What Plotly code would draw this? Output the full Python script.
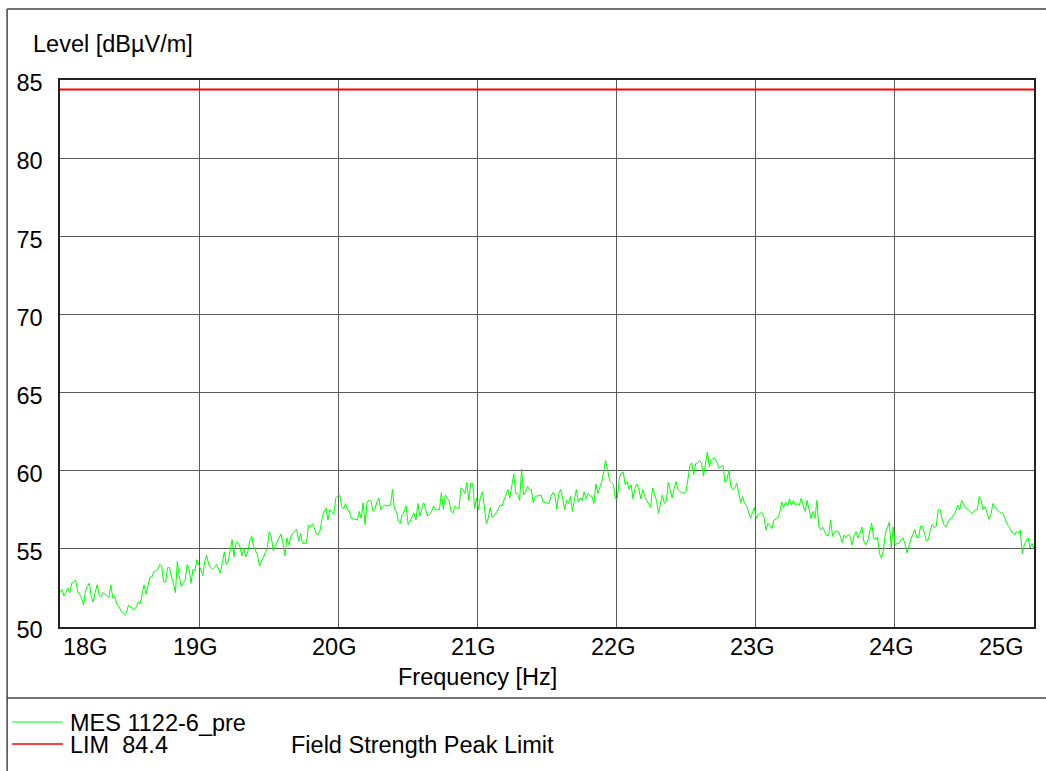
import numpy as np
import plotly.graph_objects as go

# ---- measured data -------------------------------------------------------
# Peak-detector sweep, 18 GHz .. 25 GHz, levels in dBµV/m (five consecutive spans)
LEVEL_A = [52.2, 52.4, 52.0, 52.2, 52.5, 52.2, 52.8, 52.9, 53.0, 52.3, 52.1, 51.9, 51.4, 52.3,
           52.6, 52.8, 51.95, 51.6, 52.2, 52.7, 52.05, 51.95, 52.2, 52.1, 52.0, 51.9, 52.7,
           51.85, 51.95, 51.5, 51.3, 51.1, 50.9, 50.8, 50.9, 51.4, 51.3, 51.2, 51.1, 51.3,
           51.6, 51.5, 52.2, 52.7, 52.1, 52.6, 53.2, 53.2, 53.55, 53.6, 53.7, 54.0, 53.9,
           52.9, 52.85, 53.8, 53.8, 53.2, 52.8, 52.2, 54.2, 53.2, 52.6, 52.8, 53.0, 54.0,
           53.7, 52.8, 53.7, 53.55, 54.3, 54.0, 53.7, 53.3, 54.2, 54.6, 54.0, 53.8, 53.7,
           53.8, 54.0, 53.7, 53.45, 54.1, 54.8, 54.0, 54.2, 54.9, 55.6, 54.5, 55.4, 55.4,
           55.15, 54.55, 55.05, 54.5, 54.8, 55.5, 55.8, 55.15, 54.9, 54.6]
LEVEL_B = [53.9, 54.2, 54.5, 54.7, 55.05, 56.1, 55.8, 54.9, 55.15, 55.5, 55.7, 55.95, 55.35,
           54.55, 55.7, 55.25, 55.8, 56.0, 56.1, 56.25, 55.5, 56.0, 55.35, 55.35, 55.35,
           56.5, 56.4, 56.6, 56.35, 55.95, 55.9, 56.2, 56.95, 57.4, 57.6, 56.85, 57.5, 57.4,
           57.2, 58.25, 58.4, 58.45, 57.7, 57.55, 57.9, 57.5, 57.4, 56.95, 56.9, 56.9, 56.85,
           57.4, 56.95, 57.95, 56.55, 58.0, 58.1, 58.05, 57.4, 57.5, 58.0, 58.25, 57.5, 57.7,
           57.8, 57.75, 57.8, 57.8, 58.8, 57.5, 57.4, 56.75, 56.65, 57.2, 57.4, 57.75, 56.55,
           56.75, 57.05, 57.3, 56.85, 57.9, 57.1, 57.6, 57.95, 57.5, 57.1, 57.2, 57.4, 57.75,
           57.5, 57.5, 57.5, 58.6, 57.55, 58.45, 58.25, 58.05, 57.4]
LEVEL_C = [57.3, 57.75, 57.6, 57.6, 58.9, 58.8, 58.55, 59.25, 58.1, 59.2, 59.2, 57.6, 58.25,
           57.5, 58.35, 58.65, 57.5, 56.6, 57.0, 57.65, 57.0, 57.1, 57.3, 57.6, 57.8, 57.75,
           58.1, 58.45, 58.8, 58.25, 59.1, 59.8, 58.55, 58.55, 58.1, 60.1, 58.45, 58.65, 59.0,
           58.8, 58.8, 57.95, 58.35, 58.4, 58.45, 58.45, 58.0, 57.95, 57.95, 57.9, 58.35,
           58.6, 58.45, 57.55, 58.55, 58.8, 58.25, 57.5, 58.1, 57.9, 58.35, 57.4, 58.1, 58.8,
           58.0, 58.25, 58.1, 58.65, 58.2, 58.55, 58.4, 58.35, 57.9, 59.15, 58.55, 59.0, 59.3,
           59.95, 60.65, 60.05, 59.35, 59.25, 59.1, 58.2, 58.25, 59.6, 59.85, 59.9, 59.1,
           59.3, 58.8, 59.1, 58.2, 58.9, 59.15, 58.8, 58.2, 58.8, 58.35, 58.1, 57.9]
LEVEL_D = [57.65, 58.9, 58.55, 58.1, 57.3, 58.0, 58.45, 57.9, 58.05, 59.25, 58.8, 58.25, 58.9,
           59.3, 58.8, 58.65, 58.55, 58.6, 58.65, 59.4, 60.3, 60.5, 59.75, 60.45, 60.5, 60.65,
           60.5, 59.65, 60.35, 61.2, 60.25, 60.7, 60.8, 60.75, 60.5, 60.15, 60.25, 60.35,
           59.25, 59.4, 60.05, 59.0, 58.8, 58.9, 59.2, 58.45, 57.95, 58.35, 57.9, 57.8, 57.4,
           56.95, 57.3, 57.65, 56.95, 57.2, 57.3, 57.3, 57.0, 56.2, 56.65, 56.45, 56.3, 56.85,
           56.95, 57.0, 57.3, 58.0, 57.65, 58.0, 57.75, 58.2, 57.8, 58.1, 57.8, 57.9, 57.8,
           58.25, 57.75, 57.4, 58.1, 57.55, 56.95, 57.4, 56.95, 58.1, 56.4, 56.2, 56.4, 56.1,
           55.85, 55.85, 56.85, 55.8, 56.1, 56.15, 56.1, 55.8, 55.4]
LEVEL_E = [55.9, 55.7, 55.9, 55.8, 55.25, 55.85, 56.1, 55.7, 56.0, 56.4, 55.5, 55.25, 55.5,
           56.0, 56.65, 55.7, 55.6, 55.75, 54.7, 54.4, 54.9, 56.0, 56.3, 56.7, 55.05, 56.4,
           55.25, 55.35, 55.35, 55.6, 55.7, 55.35, 54.75, 55.25, 55.6, 55.9, 56.25, 55.75,
           55.7, 56.45, 56.45, 56.0, 55.5, 55.6, 56.2, 56.55, 56.35, 56.45, 57.5, 57.5, 56.9,
           56.55, 56.4, 56.7, 56.9, 57.0, 57.2, 57.4, 57.8, 57.5, 58.1, 57.8, 57.6, 57.55,
           57.45, 57.3, 57.35, 57.5, 57.5, 58.35, 58.1, 57.5, 57.7, 57.3, 56.9, 57.2, 57.9,
           57.7, 57.5, 57.4, 57.3, 57.3, 56.95, 56.65, 56.45, 56.25, 56.0, 55.9, 56.1, 56.0,
           56.2, 54.7, 55.25, 55.5, 55.7, 55.05, 55.35, 55.0]

F_START_HZ = 18e9
F_STOP_HZ = 25e9
LIMIT_LEVEL = 84.4

X_TICK_HZ = [18e9, 19e9, 20e9, 21e9, 22e9, 23e9, 24e9, 25e9]
X_TICK_TEXT = ["18G", "19G", "20G", "21G", "22G", "23G", "24G", "25G"]
Y_TICKS = [50, 55, 60, 65, 70, 75, 80, 85]

TRACE_NAME = "MES 1122-6_pre"
LIMIT_NAME = "LIM  84.4"
LIMIT_DESC = "Field Strength Peak Limit"

# ---- figure geometry (pixels) -------------------------------------------
W, H = 1046, 771
ML, MR, MT, MB = 60, 10, 80, 144
PW, PH = W - ML - MR, H - MT - MB
FONT = "Liberation Sans, Arial, sans-serif"
FS = 23.5


def px_x(px):
    return (px - ML) / PW


def px_y(py):
    return (H - MB - py) / PH


levels = np.concatenate([LEVEL_A, LEVEL_B, LEVEL_C, LEVEL_D, LEVEL_E])
freqs = np.linspace(F_START_HZ, F_STOP_HZ, len(levels))

fig = go.Figure()
fig.add_trace(go.Scatter(x=freqs, y=levels, mode="lines",
                         line=dict(color="#00ff00", width=1), name=TRACE_NAME,
                         hoverinfo="skip"))
fig.add_trace(go.Scatter(x=[F_START_HZ, F_STOP_HZ], y=[LIMIT_LEVEL, LIMIT_LEVEL],
                         mode="lines", line=dict(color="#ff0000", width=2),
                         name=LIMIT_NAME, hoverinfo="skip"))

fig.update_layout(
    width=W, height=H, autosize=False,
    margin=dict(l=ML, r=MR, t=MT, b=MB, pad=0),
    paper_bgcolor="white", plot_bgcolor="white",
    showlegend=False,
    font=dict(family=FONT, size=FS, color="black"),
)

fig.update_xaxes(range=[F_START_HZ, F_STOP_HZ], tickvals=X_TICK_HZ,
                 showticklabels=False, ticks="", showgrid=True,
                 gridcolor="#5a5a5a", gridwidth=1, zeroline=False,
                 showline=True, linecolor="#222222", linewidth=1.5, mirror=True)
fig.update_yaxes(range=[50, 85], tickvals=Y_TICKS, ticks="",
                 ticklabelstandoff=11, ticklabelshift=3,
                 tickfont=dict(family=FONT, size=FS),
                 showgrid=True, gridcolor="#5a5a5a", gridwidth=1, zeroline=False,
                 showline=True, linecolor="#222222", linewidth=1.5, mirror=True)

annotations = []
# frequency tick labels under the grid lines
for i, (fv, txt) in enumerate(zip(X_TICK_HZ, X_TICK_TEXT)):
    if i == 0:
        xanchor, shift = "left", 1
    elif i == len(X_TICK_HZ) - 1:
        xanchor, shift = "right", -9
    else:
        xanchor, shift = "center", -4
    annotations.append(dict(x=fv, y=px_y(647), xref="x", yref="paper", text=txt,
                            showarrow=False, xanchor=xanchor, yanchor="middle",
                            xshift=shift))

annotations += [
    dict(x=px_x(31), y=px_y(44), text="Level [dBµV/m]", xanchor="left"),
    dict(x=px_x(478), y=px_y(677), text="Frequency [Hz]", xanchor="center"),
    dict(x=px_x(68), y=px_y(723), text=TRACE_NAME, xanchor="left"),
    dict(x=px_x(68), y=px_y(745), text=LIMIT_NAME, xanchor="left"),
    dict(x=px_x(289), y=px_y(745), text=LIMIT_DESC, xanchor="left"),
]
for a in annotations:
    a.setdefault("xref", "paper")
    a.setdefault("yref", "paper")
    a.setdefault("yanchor", "middle")
    a["showarrow"] = False
fig.update_layout(annotations=annotations)

frame = dict(color="#444444", width=1.5)
shapes = [
    # outer frame and legend separator
    dict(type="line", xref="paper", yref="paper", x0=px_x(7), x1=px_x(W + 5),
         y0=px_y(9), y1=px_y(9), line=frame),
    dict(type="line", xref="paper", yref="paper", x0=px_x(7), x1=px_x(7),
         y0=px_y(9), y1=px_y(H + 5), line=frame),
    dict(type="line", xref="paper", yref="paper", x0=px_x(7), x1=px_x(W + 5),
         y0=px_y(698), y1=px_y(698), line=frame),
    # legend keys
    dict(type="line", xref="paper", yref="paper", x0=px_x(12), x1=px_x(63),
         y0=px_y(722), y1=px_y(722), line=dict(color="#00ff00", width=1)),
    dict(type="line", xref="paper", yref="paper", x0=px_x(12), x1=px_x(63),
         y0=px_y(744), y1=px_y(744), line=dict(color="#ff0000", width=1.5)),
]
fig.update_layout(shapes=shapes)

fig.write_html("out.html")
